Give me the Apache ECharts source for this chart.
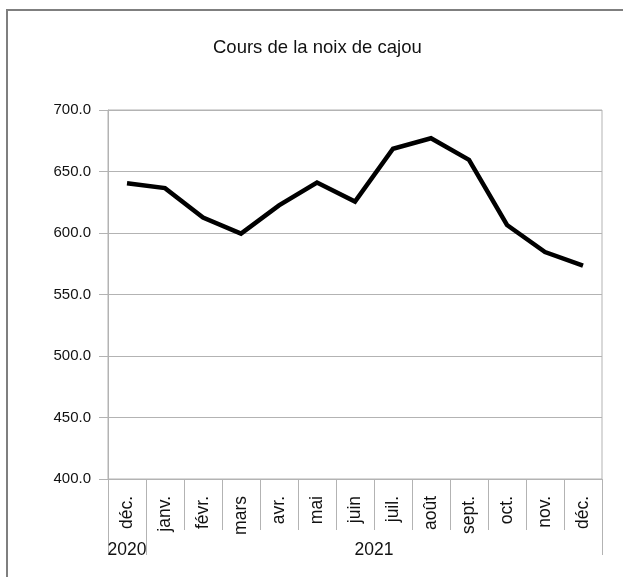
<!DOCTYPE html>
<html>
<head>
<meta charset="utf-8">
<script src="https://cdn.jsdelivr.net/npm/echarts@6/dist/echarts.min.js"></script>
<style>
  html, body { margin: 0; padding: 0; overflow: hidden; background: #fff; }
  #frame { position: absolute; left: 6px; top: 9px; width: 800px; height: 800px;
           border-left: 2px solid #7f7f7f; border-top: 2px solid #7f7f7f; box-sizing: border-box; }
  #chart { position: absolute; left: 0; top: 0; width: 623px; height: 577px; }
</style>
</head>
<body>
<div id="frame"></div>
<div id="chart"></div>
<script>
const title = 'Cours de la noix de cajou';
const months = ['déc.', 'janv.', 'févr.', 'mars', 'avr.', 'mai', 'juin', 'juil.', 'août', 'sept.', 'oct.', 'nov.', 'déc.'];
const prices = [640.5, 636.5, 612.5, 599.5, 622.5, 641, 625.5, 668.5, 677, 659.5, 606.5, 584.5, 573.5];
const years = ['2020', '2021'];
const yearSpans = [1, 12];
const yTicks = [400, 450, 500, 550, 600, 650, 700];

// year group boundaries and centres (in category units)
const bounds = [0];
const centres = [];
yearSpans.forEach(function (s, i) {
  const start = bounds[bounds.length - 1];
  centres.push(start + s / 2);
  bounds.push(start + s);
});

const grey = '#b3b3b3';
const font = 'Liberation Sans, Arial, sans-serif';

const chart = echarts.init(document.getElementById('chart'), null, { renderer: 'canvas' });
chart.setOption({
  animation: false,
  title: {
    text: title,
    left: 213, top: 38, padding: 0,
    textStyle: { fontFamily: font, fontSize: 18.5, fontWeight: 'normal', color: '#111' }
  },
  grid: { left: 108, top: 110, right: 21, bottom: 98, containLabel: false,
          show: true, borderColor: grey, borderWidth: 1 },
  xAxis: [{
    type: 'category',
    data: months,
    boundaryGap: true,
    axisLine: { show: true, lineStyle: { color: grey, width: 1 } },
    axisTick: { show: true, interval: 0, length: 51, lineStyle: { color: grey } },
    axisLabel: { interval: 0, rotate: 90, margin: 17, fontFamily: font, fontSize: 17.5, color: '#111' },
    splitLine: { show: false }
  }, {
    type: 'value',
    min: 0, max: bounds[bounds.length - 1],
    position: 'bottom',
    axisLine: { show: false },
    splitLine: { show: false },
    axisTick: { show: true, customValues: bounds, length: 76, lineStyle: { color: grey } },
    axisLabel: {
      customValues: centres, margin: 62, fontFamily: font, fontSize: 17.5, color: '#111',
      formatter: function (v) { const i = centres.indexOf(v); return i >= 0 ? years[i] : ''; }
    }
  }],
  yAxis: {
    type: 'value',
    min: yTicks[0], max: yTicks[yTicks.length - 1], interval: yTicks[1] - yTicks[0],
    axisLine: { show: true, lineStyle: { color: grey } },
    axisTick: { show: true, length: 9, lineStyle: { color: grey } },
    axisLabel: { margin: 17, fontFamily: font, fontSize: 15, color: '#111',
                 formatter: function (v) { return v.toFixed(1); } },
    splitLine: { show: true, lineStyle: { color: grey, width: 1 } }
  },
  series: [{
    type: 'line',
    xAxisIndex: 0,
    data: prices,
    symbol: 'none',
    lineStyle: { color: '#000', width: 4.5, join: 'miter' }
  }]
});
</script>
</body>
</html>
